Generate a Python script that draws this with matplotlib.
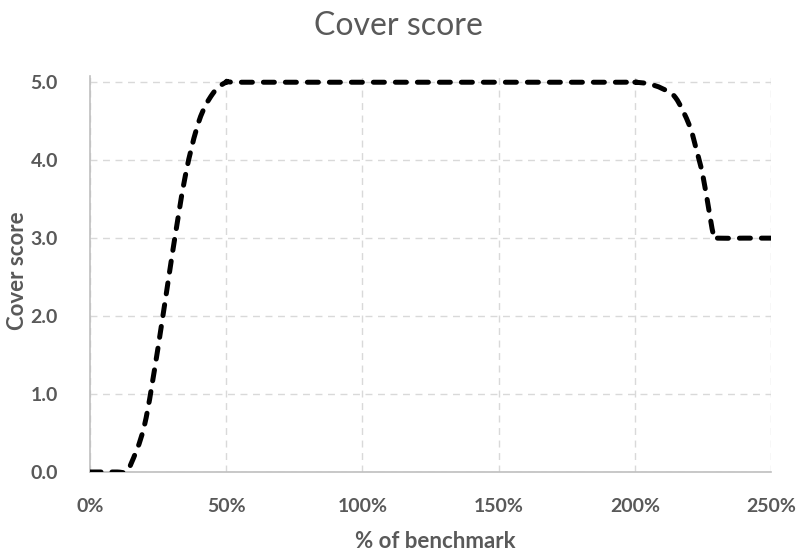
import matplotlib
matplotlib.use("Agg")
import matplotlib.pyplot as plt
from matplotlib.path import Path
from matplotlib.patches import PathPatch
from matplotlib.ticker import FuncFormatter, MultipleLocator

plt.rcParams['font.family'] = ['Lato', 'DejaVu Sans']

# benchmark share (fraction) and the cover score read at each point
benchmark = [0.00, 0.05, 0.10, 0.13, 0.15, 0.20, 0.25, 0.30, 0.35, 0.40, 0.45, 0.50,
             0.55, 1.00, 1.50, 1.95, 2.00, 2.05, 2.10, 2.15, 2.20, 2.225, 2.25, 2.275,
             2.29, 2.30, 2.40, 2.50]
score = [0.0, 0.0, 0.0, 0.0, 0.1, 0.6, 1.6, 2.75, 3.8, 4.5, 4.85, 5.0,
         5.0, 5.0, 5.0, 5.0, 5.0, 4.98, 4.92, 4.8, 4.45, 4.15, 3.8, 3.3,
         3.02, 3.0, 3.0, 3.0]

text_grey = '#595959'
grid_grey = '#D9D9D9'
axis_grey = '#BFBFBF'


def smooth_path(xs, ys):
    # spreadsheet-style smoothed line: cubic Bezier segments through every point
    pts = list(zip(xs, ys))
    verts = [pts[0]]
    codes = [Path.MOVETO]
    n = len(pts)
    for i in range(n - 1):
        p0 = pts[max(i - 1, 0)]
        p1 = pts[i]
        p2 = pts[i + 1]
        p3 = pts[min(i + 2, n - 1)]
        c1 = (p1[0] + (p2[0] - p0[0]) / 6, p1[1] + (p2[1] - p0[1]) / 6)
        c2 = (p2[0] - (p3[0] - p1[0]) / 6, p2[1] - (p3[1] - p1[1]) / 6)
        verts += [c1, c2, p2]
        codes += [Path.CURVE4] * 3
    return Path(verts, codes)


fig = plt.figure(figsize=(7.99, 5.55), dpi=100)
ax = fig.add_axes([90 / 799, 1 - 472 / 555, (771 - 90) / 799, (472 - 76) / 555])

curve = PathPatch(smooth_path(benchmark, score), fill=False, edgecolor='black',
                  linewidth=3.6, linestyle=(0, (2.2, 2.2)), capstyle='round',
                  joinstyle='round', zorder=3)
ax.add_patch(curve)

ax.set_xlim(0, 2.5)
ax.set_ylim(0, 5.08)
ax.xaxis.set_major_locator(MultipleLocator(0.5))
ax.yaxis.set_major_locator(MultipleLocator(1.0))
ax.xaxis.set_major_formatter(FuncFormatter(lambda v, p: f"{v * 100:.0f}%"))
ax.yaxis.set_major_formatter(FuncFormatter(lambda v, p: f"{v:.1f}"))

ax.grid(True, color=grid_grey, linestyle=(0, (5, 4)), linewidth=1.0)
ax.set_axisbelow(True)
for side in ('top', 'right'):
    ax.spines[side].set_visible(False)
for side in ('left', 'bottom'):
    ax.spines[side].set_color(axis_grey)
    ax.spines[side].set_linewidth(1.2)

ax.tick_params(length=0, labelsize=14, labelcolor=text_grey)
ax.tick_params(axis='x', pad=19)
ax.tick_params(axis='y', pad=23)
for lab in ax.get_xticklabels() + ax.get_yticklabels():
    lab.set_fontweight('bold')

fig.text(435 / 799, 1 - 548 / 555, '% of benchmark', ha='center', va='baseline',
         fontsize=16, fontweight='bold', color=text_grey)
fig.text(17.5 / 799, 1 - 271 / 555, 'Cover score', ha='center', va='center',
         rotation=90, fontsize=16, fontweight='bold', color=text_grey)
fig.text(398 / 799, 1 - 35 / 555, 'Cover score', ha='center', va='baseline',
         fontsize=23, color=text_grey)

fig.savefig('out.png', dpi=100, facecolor='white')
